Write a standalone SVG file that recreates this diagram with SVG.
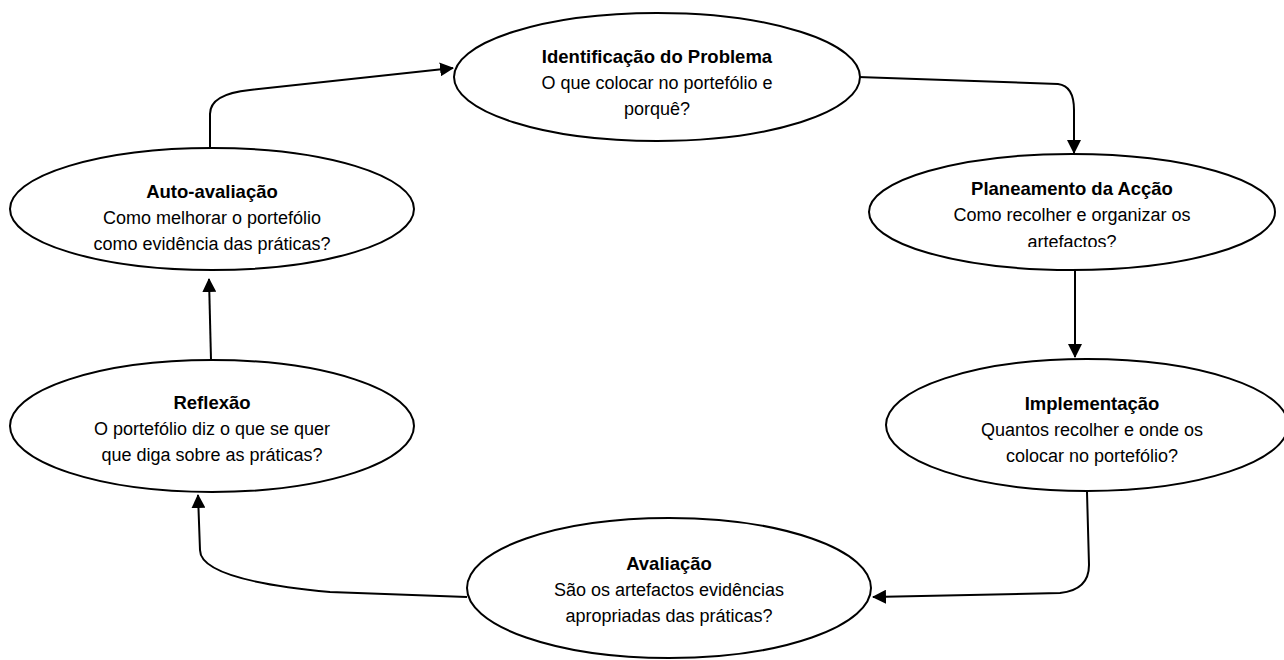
<svg xmlns="http://www.w3.org/2000/svg" width="1284" height="660" viewBox="0 0 1284 660">
<defs>
<style>
.n ellipse{fill:#fff;stroke:#000;stroke-width:2}
text{font-family:"Liberation Sans",Arial,sans-serif;font-size:18px;fill:#000;text-anchor:middle}
.t{font-weight:bold;font-size:18.5px}
.c path{fill:none;stroke:#000;stroke-width:2}
</style>
<marker id="ah2" markerWidth="14" markerHeight="14" refX="13" refY="7" orient="auto" markerUnits="userSpaceOnUse" viewBox="0 0 14 14">
<path d="M0,0 L14,7 L0,14 Z" fill="#000"/>
</marker>
<clipPath id="cp"><rect x="860" y="150" width="424" height="97"/></clipPath>
</defs>
<rect width="1284" height="660" fill="#fff"/>
<g class="c">
<path d="M210,148 L210,114 Q210,94 250,90 L453,68" marker-end="url(#ah2)"/>
<path d="M858,77 L1058,84 Q1074,86 1074,110 L1074,153" marker-end="url(#ah2)"/>
<path d="M1075,270 L1075,357" marker-end="url(#ah2)"/>
<path d="M1087,492 L1089,565 Q1089,590 1060,593 L873,597" marker-end="url(#ah2)"/>
<path d="M467,597 L330,592 Q200,580 200,550 L198,495" marker-end="url(#ah2)"/>
<path d="M211,360 L209,279" marker-end="url(#ah2)"/>
</g>
<g class="n" id="identificacao">
<ellipse cx="657" cy="77" rx="203" ry="64"/>
<text class="t" x="657" y="63">Identificação do Problema</text>
<text x="657" y="89">O que colocar no portefólio e</text>
<text x="657" y="115">porquê?</text>
</g>
<g class="n" id="planeamento">
<ellipse cx="1072" cy="212" rx="203" ry="58"/>
<text class="t" x="1072" y="195">Planeamento da Acção</text>
<text x="1072" y="221">Como recolher e organizar os</text>
<text x="1072" y="248" clip-path="url(#cp)">artefactos?</text>
</g>
<g class="n" id="implementacao">
<ellipse cx="1087" cy="425" rx="201" ry="66"/>
<text class="t" x="1092" y="410">Implementação</text>
<text x="1092" y="436">Quantos recolher e onde os</text>
<text x="1092" y="462">colocar no portefólio?</text>
</g>
<g class="n" id="avaliacao">
<ellipse cx="669" cy="588" rx="202" ry="70"/>
<text class="t" x="669" y="570">Avaliação</text>
<text x="669" y="596">São os artefactos evidências</text>
<text x="669" y="622">apropriadas das práticas?</text>
</g>
<g class="n" id="reflexao">
<ellipse cx="212" cy="426" rx="202" ry="66"/>
<text class="t" x="212" y="409">Reflexão</text>
<text x="212" y="435">O portefólio diz o que se quer</text>
<text x="212" y="461">que diga sobre as práticas?</text>
</g>
<g class="n" id="autoavaliacao">
<ellipse cx="212" cy="209" rx="202" ry="61"/>
<text class="t" x="212" y="198">Auto-avaliação</text>
<text x="212" y="224">Como melhorar o portefólio</text>
<text x="212" y="250">como evidência das práticas?</text>
</g>
</svg>
